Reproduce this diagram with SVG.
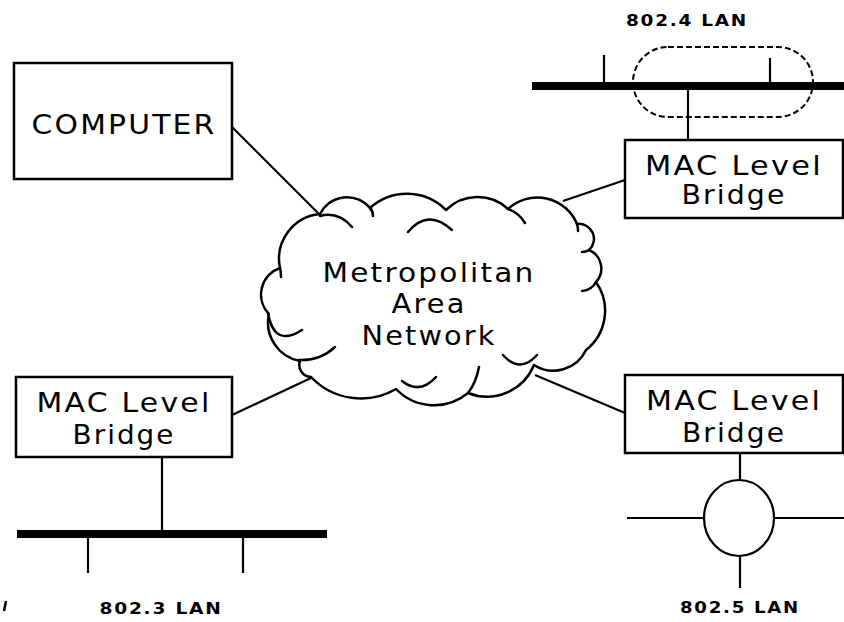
<svg xmlns="http://www.w3.org/2000/svg" width="844" height="622" viewBox="0 0 844 622">
<style>
.box{fill:#fff;stroke:#000;stroke-width:2.5}
.ln{fill:none;stroke:#000;stroke-width:2.2}
.bus{fill:none;stroke:#000;stroke-width:8}
.t{font-family:"DejaVu Sans","Liberation Sans",sans-serif;font-size:27px;letter-spacing:2px;text-anchor:middle;fill:#000}
.lab{font-family:"DejaVu Sans","Liberation Sans",sans-serif;font-size:16px;font-weight:bold;letter-spacing:1.5px;text-anchor:middle;fill:#000}
</style>
<rect width="844" height="622" fill="#fff"/>
<g id="connectors">
<line class="ln" x1="232" y1="127" x2="320" y2="215"/>
<line class="ln" x1="563" y1="201" x2="625" y2="180"/>
<line class="ln" x1="232" y1="415" x2="311" y2="378"/>
<line class="ln" x1="535" y1="375" x2="625" y2="413"/>
<line class="ln" x1="688" y1="86" x2="688" y2="140"/>
<line class="ln" x1="162" y1="457" x2="162" y2="534"/>
<line class="ln" x1="740" y1="453" x2="740" y2="479"/>
</g>
<g id="lan-8024">
<line class="bus" x1="532" y1="86" x2="844" y2="86"/>
<line class="ln" x1="604" y1="55" x2="604" y2="86"/>
<line class="ln" x1="770" y1="58" x2="770" y2="86"/>
<rect x="633" y="47" width="180" height="70" rx="35" fill="none" stroke="#000" stroke-width="2" stroke-dasharray="6,3"/>
<text class="lab" x="687" y="26" textLength="122" lengthAdjust="spacingAndGlyphs">802.4 LAN</text>
</g>
<g id="lan-8023">
<line class="bus" x1="17" y1="534" x2="327" y2="534"/>
<line class="ln" x1="88" y1="538" x2="88" y2="573"/>
<line class="ln" x1="243" y1="538" x2="243" y2="573"/>
<path d="M6,601 L4,611" stroke="#000" stroke-width="2.5" fill="none"/>
<text class="lab" x="161" y="614" textLength="123" lengthAdjust="spacingAndGlyphs">802.3 LAN</text>
</g>
<g id="lan-8025">
<ellipse cx="739" cy="518" rx="35" ry="38" class="ln"/>
<line class="ln" x1="627" y1="518" x2="704" y2="518"/>
<line class="ln" x1="774" y1="518" x2="844" y2="518"/>
<line class="ln" x1="740" y1="556" x2="740" y2="588"/>
<text class="lab" x="740" y="613" textLength="120" lengthAdjust="spacingAndGlyphs">802.5 LAN</text>
</g>
<g id="computer">
<rect class="box" x="14" y="63" width="218" height="116"/>
<text class="t" x="124" y="134" textLength="185" lengthAdjust="spacingAndGlyphs">COMPUTER</text>
</g>
<g id="bridge-top">
<rect class="box" x="625" y="140" width="218" height="78"/>
<text class="t" x="734" y="175" textLength="178" lengthAdjust="spacingAndGlyphs">MAC Level</text>
<text class="t" x="734" y="204" textLength="105" lengthAdjust="spacingAndGlyphs">Bridge</text>
</g>
<g id="bridge-left">
<rect class="box" x="16" y="377" width="216" height="80"/>
<text class="t" x="124" y="412" textLength="175" lengthAdjust="spacingAndGlyphs">MAC Level</text>
<text class="t" x="124" y="444" textLength="103" lengthAdjust="spacingAndGlyphs">Bridge</text>
</g>
<g id="bridge-right">
<rect class="box" x="625" y="375" width="218" height="78"/>
<text class="t" x="734" y="410" textLength="176" lengthAdjust="spacingAndGlyphs">MAC Level</text>
<text class="t" x="734" y="442" textLength="104" lengthAdjust="spacingAndGlyphs">Bridge</text>
</g>
<g id="man-cloud">
<path fill="#fff" stroke="#000" stroke-width="2.5" stroke-linejoin="round" d="M320,214 A30,30 0 0 1 370,208 A55,55 0 0 1 446,210 A45,45 0 0 1 508,209 A43,43 0 0 1 577,224 A15,15 0 0 1 589,250 A20,20 0 0 1 596,282 A50,50 0 0 1 586,350 A36,36 0 0 1 534,365 A51,51 0 0 1 468,393 A53,53 0 0 1 396,389 A69,69 0 0 1 311,377 A12,12 0 0 1 300,361 A39,39 0 0 1 269,314 A28,28 0 0 1 280,268 A45,45 0 0 1 320,214 Z"/>
<g fill="none" stroke="#000" stroke-width="2.5" stroke-linecap="round">
<path d="M320,216 Q338,211 352,227"/>
<path d="M370,208 Q373,211 373,216"/>
<path d="M408,232 Q428,208 452,230"/>
<path d="M508,209 Q519,213 525,223"/>
<path d="M577,224 Q578,227 578,231"/>
<path d="M589,250 Q586,252 582,252"/>
<path d="M596,282 Q592,290 582,291"/>
<path d="M503,355 Q520,374 537,355"/>
<path d="M479,367 Q476,383 468,393"/>
<path d="M402,381 Q420,395 436,377"/>
<path d="M299,360 Q320,361 335,347"/>
<path d="M268,313 Q274,348 302,330"/>
<path d="M280,268 Q281,272 281,277"/>
</g>
<text class="t" x="429" y="282" textLength="213" lengthAdjust="spacingAndGlyphs">Metropolitan</text>
<text class="t" x="429" y="313" textLength="75" lengthAdjust="spacingAndGlyphs">Area</text>
<text class="t" x="429" y="345" textLength="135" lengthAdjust="spacingAndGlyphs">Network</text>
</g>
</svg>
